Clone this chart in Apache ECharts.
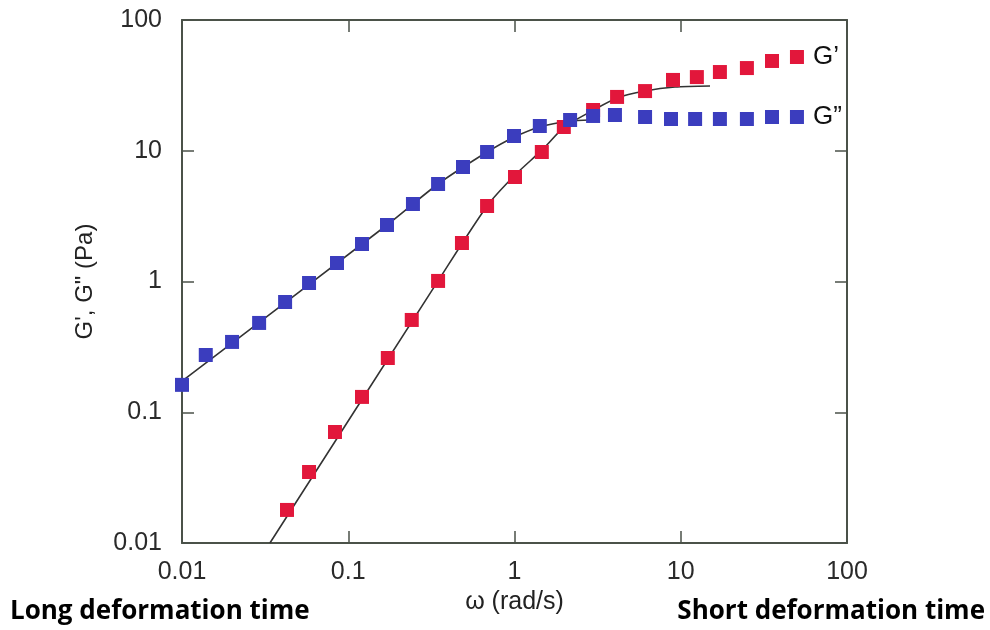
<!DOCTYPE html>
<html>
<head>
<meta charset="utf-8">
<script src="https://cdn.jsdelivr.net/npm/echarts@6/dist/echarts.min.js"></script>
<style>
  html, body { margin: 0; padding: 0; background: #fff; }
  #chart { width: 990px; height: 630px; }
</style>
</head>
<body>
<div id="chart"></div>
<script>
// Angular frequency (rad/s) of each measured point
const omegaGp  = [0.0428, 0.0581, 0.0832, 0.121, 0.173, 0.241, 0.347, 0.483, 0.684, 1.007,
                  1.46, 1.98, 2.97, 4.14, 6.10, 8.98, 12.5, 17.2, 25.0, 35.4, 50.0];
const omegaGpp = [0.010, 0.0139, 0.020, 0.0291, 0.0417, 0.0581, 0.0856, 0.121, 0.171, 0.245,
                  0.347, 0.490, 0.684, 0.993, 1.42, 2.16, 2.97, 4.02, 6.10, 8.74,
                  12.2, 17.2, 25.0, 35.4, 50.0];

// Storage modulus G' (Pa)
const storageG = [0.0179, 0.0349, 0.0706, 0.131, 0.260, 0.508, 1.01, 1.97, 3.78, 6.30,
                  9.78, 15.2, 20.5, 25.8, 28.6, 34.8, 36.6, 40.0, 42.9, 48.6, 52.1];
// Loss modulus G'' (Pa)
const lossG    = [0.162, 0.274, 0.345, 0.482, 0.697, 0.974, 1.385, 1.935, 2.705, 3.914,
                  5.57, 7.51, 9.78, 12.97, 15.46, 17.19, 18.45, 18.77, 18.12, 17.49,
                  17.49, 17.49, 17.49, 18.12, 18.12];

// Model fit curves traced through the data
const fitGpOmega  = [0.0338, 0.347, 0.684, 1.007, 1.46, 2.0, 2.85, 4.14, 6.10, 9.23, 15.0];
const fitGpValue  = [0.010, 1.01, 3.78, 6.52, 10.1, 15.2, 19.8, 25.3, 28.6, 30.7, 31.3];
const fitGppOmega = [0.010, 0.171, 0.347, 0.684, 0.993, 1.42, 2.16, 2.85];
const fitGppValue = [0.173, 2.705, 5.57, 9.78, 12.7, 15.2, 16.9, 17.2];

// Decade tick labels
const xTickLabels = ['0.01', '0.1', '1', '10', '100'];
const yTickLabels = ['0.01', '0.1', '1', '10', '100'];

const seriesNames = ['G’', 'G”'];

const zip = (xs, ys) => xs.map((x, i) => [x, ys[i]]);
const labelLast = (pts, text) => pts.map((p, i) => i === pts.length - 1
  ? { value: p, label: { show: true, position: 'right', distance: 9, formatter: text,
      fontFamily: 'Liberation Sans', fontSize: 26, color: '#111' } }
  : p);

const AXIS_COLOR = '#4b5249';
const FONT = 'Liberation Sans';

function decadeLabel(labels) {
  return v => {
    const i = Math.round(Math.log10(v)) + 2;
    return labels[i] !== undefined ? labels[i] : '';
  };
}

const frameAxis = (extra) => Object.assign({
  type: 'log', logBase: 10, min: 0.01, max: 100,
  axisLine: { show: true, lineStyle: { color: AXIS_COLOR, width: 2 } },
  axisTick: { show: true, inside: true, length: 12, lineStyle: { color: AXIS_COLOR, width: 1.5 } },
  minorTick: { show: false },
  splitLine: { show: false }
}, extra);

const chart = echarts.init(document.getElementById('chart'), null, { renderer: 'canvas' });

chart.setOption({
  animation: false,
  backgroundColor: '#ffffff',
  grid: { left: 182, top: 20, width: 665, height: 523, containLabel: false },
  xAxis: [
    frameAxis({
      position: 'bottom',
      name: 'ω (rad/s)', nameLocation: 'middle', nameGap: 42,
      nameTextStyle: { fontFamily: FONT, fontSize: 25, color: '#222' },
      axisLabel: { margin: 17, fontFamily: FONT, fontSize: 25, color: '#2a2a2a',
                   formatter: decadeLabel(xTickLabels) }
    }),
    frameAxis({ position: 'top', axisLabel: { show: false } })
  ],
  yAxis: [
    frameAxis({
      position: 'left',
      name: 'G\', G" (Pa)', nameLocation: 'middle', nameGap: 85, nameRotate: 90,
      nameTextStyle: { fontFamily: FONT, fontSize: 24, color: '#222' },
      axisLabel: { margin: 20, fontFamily: FONT, fontSize: 25, color: '#2a2a2a',
                   formatter: decadeLabel(yTickLabels) }
    }),
    frameAxis({ position: 'right', axisLabel: { show: false } })
  ],
  series: [
    {
      type: 'line', data: zip(fitGpOmega, fitGpValue), smooth: 0.25,
      symbol: 'none', lineStyle: { color: '#333', width: 1.6 }, z: 2, silent: true
    },
    {
      type: 'line', data: zip(fitGppOmega, fitGppValue), smooth: 0.25,
      symbol: 'none', lineStyle: { color: '#333', width: 1.6 }, z: 2, silent: true
    },
    {
      name: seriesNames[0], type: 'scatter', symbol: 'rect', symbolSize: 14,
      itemStyle: { color: '#e2173b', opacity: 1 }, clip: false, z: 3,
      data: labelLast(zip(omegaGp, storageG), seriesNames[0])
    },
    {
      name: seriesNames[1], type: 'scatter', symbol: 'rect', symbolSize: 14,
      itemStyle: { color: '#3b3dbe', opacity: 1 }, clip: false, z: 4,
      data: labelLast(zip(omegaGpp, lossG), seriesNames[1])
    }
  ],
  graphic: [
    { type: 'text', left: 10, top: 599,
      style: { text: 'Long deformation time', fontFamily: 'Open Sans', fontWeight: 'bold',
               fontSize: 26, fill: '#000' } },
    { type: 'text', right: 5, top: 599,
      style: { text: 'Short deformation time', fontFamily: 'Open Sans', fontWeight: 'bold',
               fontSize: 26, fill: '#000' } }
  ]
});
</script>
</body>
</html>
